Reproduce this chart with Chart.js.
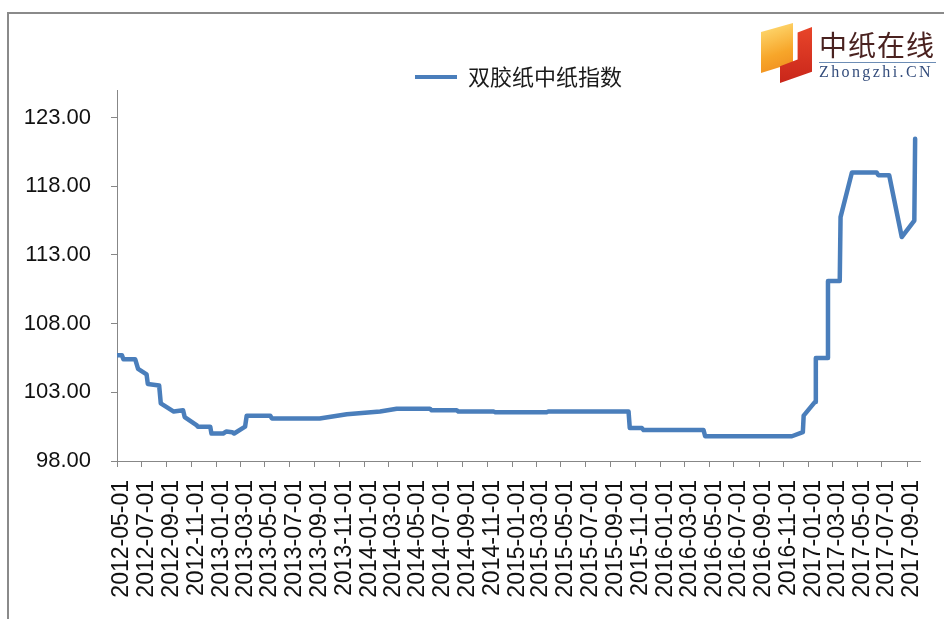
<!DOCTYPE html>
<html>
<head>
<meta charset="utf-8">
<title>双胶纸中纸指数</title>
<script src="https://cdn.jsdelivr.net/npm/chart.js@4.4.1/dist/chart.umd.min.js"></script>
<style>
    html, body { margin: 0; padding: 0; background: #fff; overflow: hidden; }
    #wrap { position: relative; width: 944px; height: 619px; }
    #frame {
        position: absolute; left: 7px; top: 12px; width: 960px; height: 640px;
        border-left: 2px solid #8a8a8a; border-top: 2px solid #8a8a8a;
    }
    #chart { position: absolute; left: 0; top: 0; }
    .logo { position: absolute; }
    #sqOrange {
        left: 761px; top: 23px; width: 32px; height: 50px;
        background: linear-gradient(160deg, #ffe07a 0%, #f7a62a 60%, #ef8a1c 100%);
        clip-path: polygon(0 18%, 100% 0, 100% 80%, 0 100%);
    }
    #sqRed {
        left: 780px; top: 27px; width: 32px; height: 56px;
        background: linear-gradient(180deg, #e8452a 0%, #c9261a 100%);
        clip-path: polygon(55% 10%, 100% 0, 100% 80%, 0 100%, 0 70%, 55% 58%);
    }
    #logoCn {
        left: 819px; top: 24px; font: 28px "Noto Sans CJK SC", sans-serif;
        color: #4a2220; letter-spacing: 1px; line-height: 40px;
    }
    #logoLine { left: 819px; top: 62px; width: 117px; height: 1px; background: #6d8db5; }
    #logoEn {
        left: 819px; top: 63px; font: 16px "Liberation Serif", serif;
        color: #344d7c; letter-spacing: 2.4px; line-height: 18px;
    }
</style>
</head>
<body>
<div id="wrap">
    <div id="frame"></div>
    <canvas id="chart" width="944" height="619"></canvas>
    <div class="logo" id="sqOrange"></div>
    <div class="logo" id="sqRed"></div>
    <div class="logo" id="logoCn">中纸在线</div>
    <div class="logo" id="logoLine"></div>
    <div class="logo" id="logoEn">Zhongzhi.CN</div>
</div>
<script>
// Index readings (corners of the weekly step line)
const seriesName = '双胶纸中纸指数';
const dates = [
    '2012-05-02', '2012-05-13', '2012-05-17', '2012-06-15', '2012-06-22', '2012-07-13',
    '2012-07-16', '2012-08-13', '2012-08-17', '2012-09-18', '2012-10-11', '2012-10-15',
    '2012-11-14', '2012-11-16', '2012-12-17', '2012-12-20', '2013-01-18', '2013-01-26',
    '2013-02-09', '2013-02-14', '2013-03-13', '2013-03-17', '2013-05-14', '2013-05-18',
    '2013-09-13', '2013-11-19', '2014-02-09', '2014-03-22', '2014-06-12', '2014-06-16',
    '2014-08-17', '2014-08-21', '2014-11-16', '2014-11-20', '2015-03-27', '2015-03-31',
    '2015-10-15', '2015-10-18', '2015-11-17', '2015-11-21', '2016-04-17', '2016-04-21',
    '2016-11-21', '2016-12-18', '2016-12-20', '2017-01-17', '2017-01-19', '2017-02-16',
    '2017-02-18', '2017-03-19', '2017-03-21', '2017-04-18', '2017-06-18', '2017-06-22',
    '2017-07-19', '2017-08-19', '2017-09-19', '2017-09-21'
];
const values = [
    105.7, 105.7, 105.4, 105.4, 104.7, 104.3,
    103.6, 103.5, 102.2, 101.6, 101.7, 101.2,
    100.6, 100.5, 100.5, 100.0, 100.0, 100.15,
    100.1, 100.0, 100.5, 101.3, 101.3, 101.1,
    101.1, 101.4, 101.6, 101.8, 101.8, 101.7,
    101.7, 101.6, 101.6, 101.55, 101.55, 101.6,
    101.6, 100.4, 100.4, 100.25, 100.25, 99.8,
    99.8, 100.1, 101.3, 102.3, 105.5, 105.5,
    111.1, 111.1, 115.75, 119.0, 119.0, 118.8,
    118.8, 114.3, 115.5, 121.45
];

// Axis ticks
const tickDates = [
    '2012-05-01', '2012-07-01', '2012-09-01', '2012-11-01', '2013-01-01', '2013-03-01',
    '2013-05-01', '2013-07-01', '2013-09-01', '2013-11-01', '2014-01-01', '2014-03-01',
    '2014-05-01', '2014-07-01', '2014-09-01', '2014-11-01', '2015-01-01', '2015-03-01',
    '2015-05-01', '2015-07-01', '2015-09-01', '2015-11-01', '2016-01-01', '2016-03-01',
    '2016-05-01', '2016-07-01', '2016-09-01', '2016-11-01', '2017-01-01', '2017-03-01',
    '2017-05-01', '2017-07-01', '2017-09-01'
];
const yTicks = [98, 103, 108, 113, 118, 123];

const lineColor = '#4a7ebb';
const axisColor = '#878787';

// days since 2012-05-01
function toDay(s) {
    const [y, m, d] = s.split('-').map(Number);
    return (Date.UTC(y, m - 1, d) - Date.UTC(2012, 4, 1)) / 86400000;
}

const points = dates.map((d, i) => ({ x: toDay(d), y: values[i] }));

new Chart(document.getElementById('chart'), {
    type: 'line',
    data: {
        datasets: [{
            label: seriesName,
            data: points,
            borderColor: lineColor,
            backgroundColor: lineColor,
            borderWidth: 4.5,
            borderJoinStyle: 'round',
            borderCapStyle: 'round',
            pointRadius: 0,
            tension: 0
        }]
    },
    options: {
        responsive: false,
        animation: false,
        layout: { padding: { left: 0, right: 24, top: 64, bottom: 0 } },
        plugins: {
            tooltip: { enabled: false },
            legend: {
                position: 'top',
                fullSize: false,
                maxHeight: 26,
                labels: {
                    boxWidth: 42,
                    boxHeight: 4,
                    padding: 2,
                    color: '#1a1a1a',
                    font: { family: '"Noto Sans CJK SC", sans-serif', size: 22 },
                    generateLabels: (chart) => Chart.defaults.plugins.legend.labels.generateLabels(chart)
                        .map(l => ({ ...l, lineWidth: 0, fillStyle: lineColor }))
                }
            }
        },
        scales: {
            x: {
                type: 'linear',
                min: 0,
                max: 1981,
                afterBuildTicks: (scale) => { scale.ticks = tickDates.map(d => ({ value: toDay(d) })); },
                afterFit: (scale) => {
                    scale.height = 158;
                    scale.paddingLeft = 0;
                    scale.paddingRight = 0;
                },
                grid: { drawOnChartArea: false, drawTicks: true, tickLength: 6, color: axisColor },
                border: { display: true, color: axisColor, width: 1 },
                ticks: {
                    autoSkip: false,
                    minRotation: 90,
                    maxRotation: 90,
                    padding: 13,
                    labelOffset: 5,
                    color: '#111',
                    font: { family: '"Liberation Sans", Arial, sans-serif', size: 23 },
                    callback: (value, index) => tickDates[index]
                }
            },
            y: {
                min: 98,
                max: 125,
                afterBuildTicks: (scale) => { scale.ticks = yTicks.map(v => ({ value: v })); },
                afterFit: (scale) => { scale.width = 117; },
                grid: { drawOnChartArea: false, drawTicks: true, tickLength: 6, color: axisColor },
                border: { display: true, color: axisColor, width: 1 },
                ticks: {
                    padding: 20,
                    color: '#111',
                    font: { family: '"Liberation Sans", Arial, sans-serif', size: 22 },
                    callback: (value) => value.toFixed(2)
                }
            }
        }
    }
});
</script>
</body>
</html>
